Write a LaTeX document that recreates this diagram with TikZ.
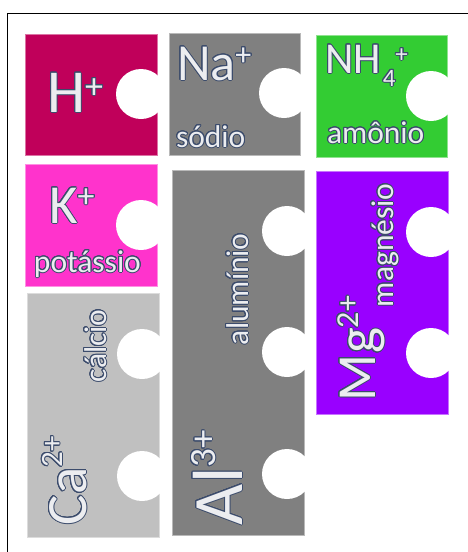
\documentclass[tikz,border=0pt]{standalone}
\usepackage{fontspec}
\setmainfont{Carlito}
\usepackage[copies]{contour}
\contourlength{1pt}
\contournumber{20}
\definecolor{hcol}{HTML}{C0005A}
\definecolor{nacol}{HTML}{808080}
\definecolor{nhcol}{HTML}{33CC33}
\definecolor{kcol}{HTML}{FF33CC}
\definecolor{cacol}{HTML}{C0C0C0}
\definecolor{alcol}{HTML}{808080}
\definecolor{mgcol}{HTML}{9900FF}
\definecolor{txtcol}{HTML}{ECEDF0}
\definecolor{outcol}{HTML}{3C4C6C}
\newcommand{\ionsup}[3]{\raisebox{#2pt}{\fontsize{#1pt}{#1pt}\selectfont #3}}
\newcommand{\lbl}[1]{\contour{outcol}{#1}}
\tikzset{
  piece/.style={fill=#1, draw=#1!55!white, line width=0.7pt},
  notch/.style={fill=white},
  txt/.style={text=txtcol, inner sep=0pt, outer sep=0pt, anchor=base west},
  big/.style={txt, font=\fontsize{#1pt}{#1pt}\selectfont},
  small/.style={txt, font=\fontsize{31.5pt}{31.5pt}\selectfont},
  up/.style={rotate=90}
}
\begin{document}
\begin{tikzpicture}[x=1pt,y=-1pt]
\useasboundingbox (0,0) rectangle (468,552);
% frame
\draw[line width=1.5pt, black] (7.5,552) -- (7.5,13.5) -- (468,13.5);
% H+
\draw[piece=hcol] (25,34) rectangle (157,155);
\fill[notch] (141,94) circle (25pt);
% Na+
\draw[piece=nacol] (169,33) rectangle (300,155);
\fill[notch] (284,93) circle (25pt);
% NH4+
\draw[piece=nhcol] (316,35) rectangle (447,157);
\fill[notch] (431,96) circle (25pt);
% K+
\draw[piece=kcol] (25,164) rectangle (157,286);
\fill[notch] (141,225) circle (25pt);
% Ca2+
\draw[piece=cacol] (27,293) rectangle (159,537);
\fill[notch] (142,354) circle (25pt);
\fill[notch] (142,476) circle (25pt);
% Al3+
\draw[piece=alcol] (172,170) rectangle (304,535);
\fill[notch] (287,231) circle (25pt);
\fill[notch] (287,352) circle (25pt);
\fill[notch] (287,474) circle (25pt);
% Mg2+
\draw[piece=mgcol] (316,171) rectangle (448,414);
\fill[notch] (431,232) circle (25pt);
\fill[notch] (431,353) circle (25pt);
% labels
\node[big=61] (hion) at (47,112) {\lbl{H\ionsup{36}{14}{+}}};
\node[big=52] (naion) at (177,80) {\lbl{Na\ionsup{32}{15}{+}}};
\node[small] (naname) at (176,147) {\lbl{sódio}};
\node[big=44] (nhion) at (325,73) {\lbl{NH\kern2pt\ionsup{25}{-13}{4}\ionsup{25}{11}{+}}};
\node[small] (nhname) at (327,143) {\lbl{amônio}};
\node[big=55] (kion) at (49,223) {\lbl{K\ionsup{34}{16}{+}}};
\node[small] (kname) at (34,272) {\lbl{potássio}};
\node[big=57, up] (caion) at (86,525) {\lbl{Ca\ionsup{31}{24}{2+}}};
\node[small, up] (caname) at (106,382) {\lbl{cálcio}};
\node[big=71, up] (alion) at (242,525) {\lbl{Al\ionsup{37}{27}{3+}}};
\node[small, up] (alname) at (248,345) {\lbl{alumínio}};
\node[big=55, up] (mgion) at (375,401) {\lbl{Mg\ionsup{32}{17}{2+}}};
\node[small, up] (mgname) at (393,307) {\lbl{magnésio}};
\end{tikzpicture}
\end{document}
